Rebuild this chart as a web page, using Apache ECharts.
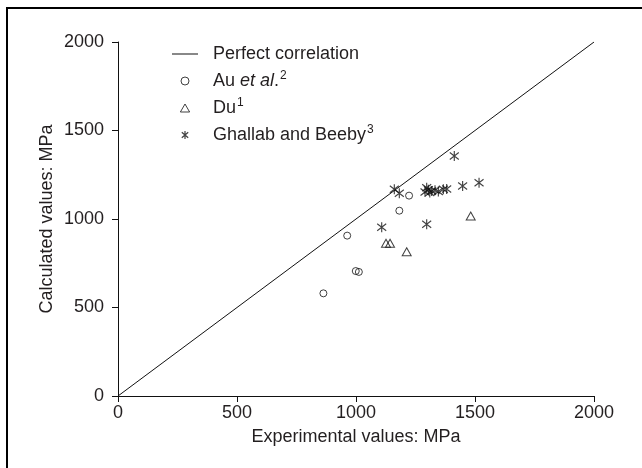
<!DOCTYPE html>
<html><head><meta charset="utf-8">
<script src="https://cdn.jsdelivr.net/npm/echarts@6/dist/echarts.min.js"></script>
<style>html,body{margin:0;padding:0;background:#fff}#c{width:642px;height:468px}</style>
</head><body><div id="c"></div>
<script>
const xTicks = [0, 500, 1000, 1500, 2000];
const yTicks = [0, 500, 1000, 1500, 2000];
const lineX = [0, 2000];
const lineY = [0, 2000];
const auX = [863, 963, 999, 1012, 1182, 1223];
const auY = [580, 906, 706, 701, 1047, 1132];
const duX = [1126, 1143, 1213, 1482];
const duY = [863, 863, 815, 1017];
const ghX = [1108, 1161, 1182, 1290, 1297, 1304, 1310, 1318, 1332, 1346, 1367, 1381, 1297, 1413, 1448, 1517];
const ghY = [953, 1168, 1145, 1152, 1177, 1165, 1150, 1158, 1162, 1155, 1168, 1170, 970, 1356, 1186, 1205];
const names = ['Perfect correlation', 'Au et al.2', 'Du1', 'Ghallab and Beeby3'];

const zip = (a, b) => a.map((v, i) => [v, b[i]]);
const TXT = '#231f20';
const FONT = '"Liberation Sans", Arial, sans-serif';
const asterisk = 'path://M0,-10 L0,10 M-8,-7 L8,7 M-8,7 L8,-7';
const triangle = 'path://M5,0 L10,8.66 L0,8.66 Z';
const markStyle = { color: 'rgba(0,0,0,0)', borderColor: '#111', borderWidth: 1 };
const starStyle = { color: 'rgba(0,0,0,0)', borderColor: '#111', borderWidth: 1.2 };

const chart = echarts.init(document.getElementById('c'), null, { renderer: 'canvas' });
const axisCommon = {
  type: 'value', min: 0, max: 2000, interval: 500,
  axisLine: { show: true, lineStyle: { color: '#111', width: 1 } },
  axisTick: { show: true, length: 6, lineStyle: { color: '#111' } },
  splitLine: { show: false },
  nameLocation: 'middle',
  nameMoveOverlap: false,
  nameTextStyle: { color: TXT, fontSize: 18, fontFamily: FONT },
  axisLabel: { color: TXT, fontSize: 18, fontFamily: FONT, formatter: v => String(v) }
};
chart.setOption({
  animation: false,
  textStyle: { fontFamily: FONT },
  grid: { left: 118, right: 48, top: 42, bottom: 72 },
  xAxis: Object.assign({}, axisCommon, { name: 'Experimental values: MPa', nameGap: 32,
    axisLabel: Object.assign({}, axisCommon.axisLabel, { margin: 8 }) }),
  yAxis: Object.assign({}, axisCommon, { name: 'Calculated values: MPa', nameGap: 62,
    axisLabel: Object.assign({}, axisCommon.axisLabel, { margin: 14 }) }),
  legend: {
    orient: 'vertical', left: 172, top: 45, padding: 0, itemWidth: 26, itemHeight: 8, itemGap: 7,
    selectedMode: false, symbolKeepAspect: true,
    data: [
      { name: names[0], icon: 'path://M0,0 L26,0 L26,1 L0,1 Z', itemStyle: { color: '#111', borderWidth: 0 } },
      { name: names[1], icon: 'circle', itemStyle: markStyle },
      { name: names[2], icon: triangle, itemStyle: markStyle },
      { name: names[3], icon: asterisk, itemStyle: starStyle }
    ],
    formatter: function (n) {
      if (n === names[1]) return '{n|Au }{i|et al}{n|.}{s|2}';
      if (n === names[2]) return '{n|Du}{s|1}';
      if (n === names[3]) return '{n|Ghallab and Beeby}{s|3}';
      return '{n|' + n + '}';
    },
    textStyle: {
      color: TXT, fontSize: 18, fontFamily: FONT, padding: [0, 0, 0, 10],
      rich: {
        n: { color: TXT, fontSize: 18, fontFamily: FONT, lineHeight: 22, verticalAlign: 'middle' },
        i: { color: TXT, fontSize: 18, fontFamily: FONT, fontStyle: 'italic', lineHeight: 22, verticalAlign: 'middle' },
        s: { color: TXT, fontSize: 12, fontFamily: FONT, lineHeight: 12, verticalAlign: 'top', padding: [0, 0, 0, 1] }
      }
    }
  },
  graphic: [
    { type: 'rect', shape: { x: 6, y: 7, width: 636, height: 2 }, style: { fill: '#000' } },
    { type: 'rect', shape: { x: 6, y: 7, width: 2, height: 461 }, style: { fill: '#000' } }
  ],
  series: [
    { name: names[0], type: 'line', data: zip(lineX, lineY), symbol: 'none', showSymbol: false,
      lineStyle: { color: '#111', width: 1 }, itemStyle: { color: '#111' } },
    { name: names[1], type: 'scatter', data: zip(auX, auY), symbol: 'circle', symbolSize: 7, itemStyle: markStyle },
    { name: names[2], type: 'scatter', data: zip(duX, duY), symbol: triangle, symbolSize: [9, 8], itemStyle: markStyle },
    { name: names[3], type: 'scatter', data: zip(ghX, ghY), symbol: asterisk, symbolSize: [9, 10], itemStyle: starStyle }
  ]
});
</script></body></html>
